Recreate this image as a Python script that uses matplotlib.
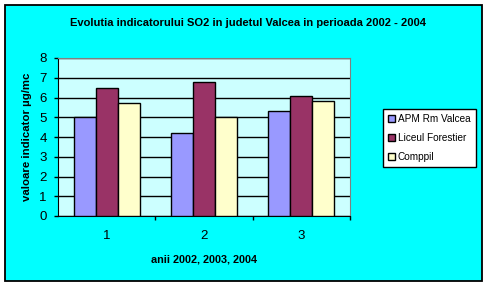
import matplotlib
matplotlib.use("Agg")
import matplotlib.pyplot as plt
import numpy as np
from matplotlib.patches import Rectangle

plt.rcParams['font.family'] = ['Liberation Sans', 'DejaVu Sans']

categories = ["1", "2", "3"]
series_names = ["APM Rm Valcea", "Liceul Forestier", "Comppil"]
apm = [5.0, 4.2, 5.3]
liceul = [6.5, 6.8, 6.1]
comppil = [5.7, 5.0, 5.8]
colors = ["#9999FF", "#993366", "#FFFFCC"]
title = "Evolutia indicatorului SO2 in judetul Valcea in perioada 2002 - 2004"
xlabel = "anii 2002, 2003, 2004"
ylabel = "valoare indicator µg/mc"

W, H = 488, 287
fig = plt.figure(figsize=(W/100, H/100), dpi=100)
fig.patch.set_facecolor("white")

# outer chart area
fig.patches.append(Rectangle((5/W, 1-281/H), (482-5)/W, (281-5)/H,
                             transform=fig.transFigure, facecolor="#00FFFF",
                             edgecolor="black", linewidth=1.3, zorder=-1))

ax = fig.add_axes([58/W, 1-216/H, 292/W, 158/H])
ax.set_facecolor("#CCFFFF")

x = np.arange(1, len(categories)+1)
w = 0.226
for i, (vals, name, c) in enumerate(zip([apm, liceul, comppil], series_names, colors)):
    ax.bar(x + (i-1)*w, vals, width=w, color=c, edgecolor="black",
           linewidth=1.0, label=name, zorder=3)

ax.set_xlim(0.5, 3.5)
ax.set_ylim(0, 8)
ax.set_yticks(range(0, 9))
ax.set_xticks(x)
ax.set_xticklabels(categories)
ax.set_xticks([1.5, 2.5, 3.5], minor=True)
ax.tick_params(axis='x', which='major', length=0, pad=10, labelsize=9.5)
ax.tick_params(axis='x', which='minor', length=3, width=1, direction='out')
ax.tick_params(axis='y', length=3, width=1, direction='out', pad=5, labelsize=9.5)
ax.yaxis.grid(True, color="black", linewidth=1, zorder=1)
ax.set_axisbelow(True)
for s in ['top', 'right']:
    ax.spines[s].set_color("#808080")
for s in ['left', 'bottom']:
    ax.spines[s].set_color("black")

ax.set_xlabel(xlabel, fontsize=7.8, fontweight='bold', labelpad=9)
ax.set_ylabel(ylabel, fontsize=8.2, fontweight='bold', labelpad=5)

fig.text(248/W, 1-23/H, title, ha='center', va='center', fontsize=8,
         fontweight='bold')

leg = fig.legend(loc='upper left', bbox_to_anchor=(383/W, 1-109/H),
                 bbox_transform=fig.transFigure, fontsize=7.2, frameon=True,
                 fancybox=False, edgecolor="black", framealpha=1,
                 handlelength=0.7, handleheight=0.7, handletextpad=0.3,
                 borderpad=0.5, labelspacing=0.9, borderaxespad=0)
leg.get_frame().set_linewidth(1)

fig.savefig("out.png", dpi=100)
